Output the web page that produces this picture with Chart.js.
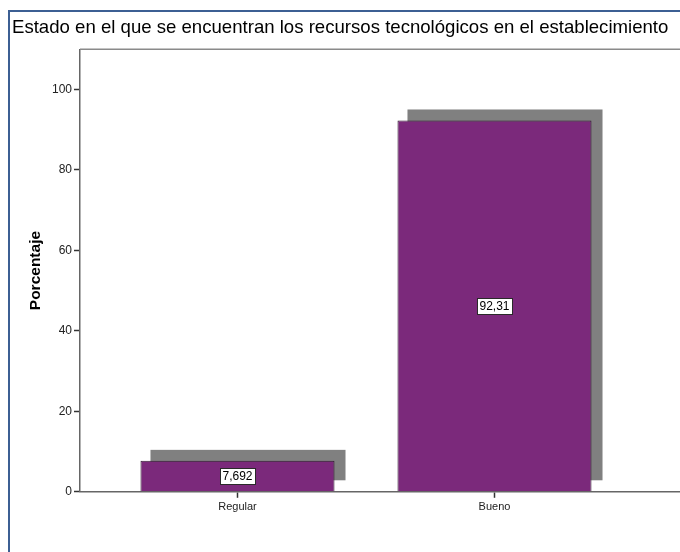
<!DOCTYPE html>
<html><head><meta charset="utf-8">
<script src="https://cdn.jsdelivr.net/npm/chart.js@4.4.0/dist/chart.umd.min.js"></script>
<style>
html,body{margin:0;padding:0;background:#fff;width:680px;height:552px;overflow:hidden;}
#wrap{position:relative;width:680px;height:552px;}
#frame{position:absolute;left:8px;top:10px;width:720px;height:620px;border-left:2px solid #3c5f93;border-top:2px solid #3c5f93;box-sizing:border-box;}
canvas{position:absolute;left:0;top:0;}
</style></head><body>
<div id="wrap"><div id="frame"></div><canvas id="c" width="680" height="552"></canvas></div>
<script>
const chartTitle = 'Estado en el que se encuentran los recursos tecnológicos en el establecimiento';
const yAxisTitle = 'Porcentaje';
const categories = ['Regular', 'Bueno'];
const percentages = [7.692, 92.31];
const valueLabels = ['7,692', '92,31'];
const yTicks = [0, 20, 40, 60, 80, 100];

const FONT = "'Liberation Sans', Arial, sans-serif";

const shadowPlugin = {
  id: 'barShadow',
  beforeDatasetsDraw(chart) {
    const ctx = chart.ctx;
    const meta = chart.getDatasetMeta(0);
    ctx.save();
    ctx.fillStyle = '#808080';
    meta.data.forEach(b => {
      const p = b.getProps(['x', 'y', 'base', 'width'], true);
      ctx.fillRect(p.x - p.width / 2 + 10, p.y - 11, p.width + 1, p.base - p.y);
    });
    ctx.restore();
  }
};

const labelPlugin = {
  id: 'valueLabels',
  afterDatasetsDraw(chart) {
    const ctx = chart.ctx;
    const meta = chart.getDatasetMeta(0);
    ctx.save();
    ctx.font = '12px ' + FONT;
    ctx.textAlign = 'center';
    ctx.textBaseline = 'middle';
    meta.data.forEach((b, i) => {
      const p = b.getProps(['x', 'y', 'base'], true);
      const cy = (p.y + p.base) / 2;
      const txt = valueLabels[i];
      const w = Math.round(ctx.measureText(txt).width) + 5;
      const h = 16;
      const x0 = Math.round(p.x - w / 2) + 0.5, y0 = Math.round(cy - h / 2) + 0.5;
      ctx.fillStyle = '#fff';
      ctx.fillRect(x0, y0, w, h);
      ctx.strokeStyle = '#2a2a2a';
      ctx.lineWidth = 1;
      ctx.strokeRect(x0, y0, w, h);
      ctx.fillStyle = '#000';
      ctx.fillText(txt, p.x, cy + 0.5);
    });
    ctx.restore();
  }
};

const framePlugin = {
  id: 'topFrame',
  afterDraw(chart) {
    const {ctx, chartArea} = chart;
    ctx.save();
    ctx.strokeStyle = '#8a8a8a';
    ctx.lineWidth = 1.5;
    ctx.beginPath();
    ctx.moveTo(chartArea.left, chartArea.top);
    ctx.lineTo(chartArea.right + 5, chartArea.top);
    ctx.stroke();
    ctx.restore();
  }
};

new Chart(document.getElementById('c').getContext('2d'), {
  type: 'bar',
  data: {
    datasets: [{
      data: categories.map((c, i) => ({x: i, y: percentages[i]})),
      backgroundColor: '#7b297b',
      borderColor: '#2e1a2e',
      borderWidth: 1,
      categoryPercentage: 1,
      barPercentage: 0.755
    }]
  },
  options: {
    responsive: false,
    animation: false,
    layout: {padding: {left: 12, top: 9, right: 0, bottom: 35}},
    plugins: {
      legend: {display: false},
      tooltip: {enabled: false},
      title: {
        display: true, text: chartTitle, align: 'start', color: '#000',
        font: {family: FONT, size: 18.6, weight: 'normal'},
        padding: {top: 8, bottom: 10}
      }
    },
    scales: {
      x: {
        type: 'linear', min: -0.6128, max: 1.7218, offset: false,
        afterBuildTicks(s) { s.ticks = categories.map((c, i) => ({value: i})); },
        ticks: {callback: v => categories[v], color: '#222', font: {family: FONT, size: 11}, padding: 3, maxRotation: 0, autoSkip: false},
        grid: {offset: false, drawOnChartArea: false, drawTicks: true, tickLength: 6, tickColor: '#333', tickWidth: 1.5},
        border: {color: '#666', width: 1.5}
      },
      y: {
        min: 0, max: 110,
        afterBuildTicks(s) { s.ticks = yTicks.map(v => ({value: v})); },
        ticks: {color: '#222', font: {family: FONT, size: 12}, padding: 2},
        grid: {drawOnChartArea: false, drawTicks: true, tickLength: 6, tickColor: '#333', tickWidth: 1.5},
        border: {color: '#666', width: 1.5},
        title: {display: true, text: yAxisTitle, color: '#000', font: {family: FONT, size: 15.5, weight: 'bold'}, padding: {top: 14, bottom: 0}},
        afterFit(s) { s.width = 68; }
      }
    }
  },
  plugins: [shadowPlugin, labelPlugin, framePlugin]
});
</script>
</body></html>
